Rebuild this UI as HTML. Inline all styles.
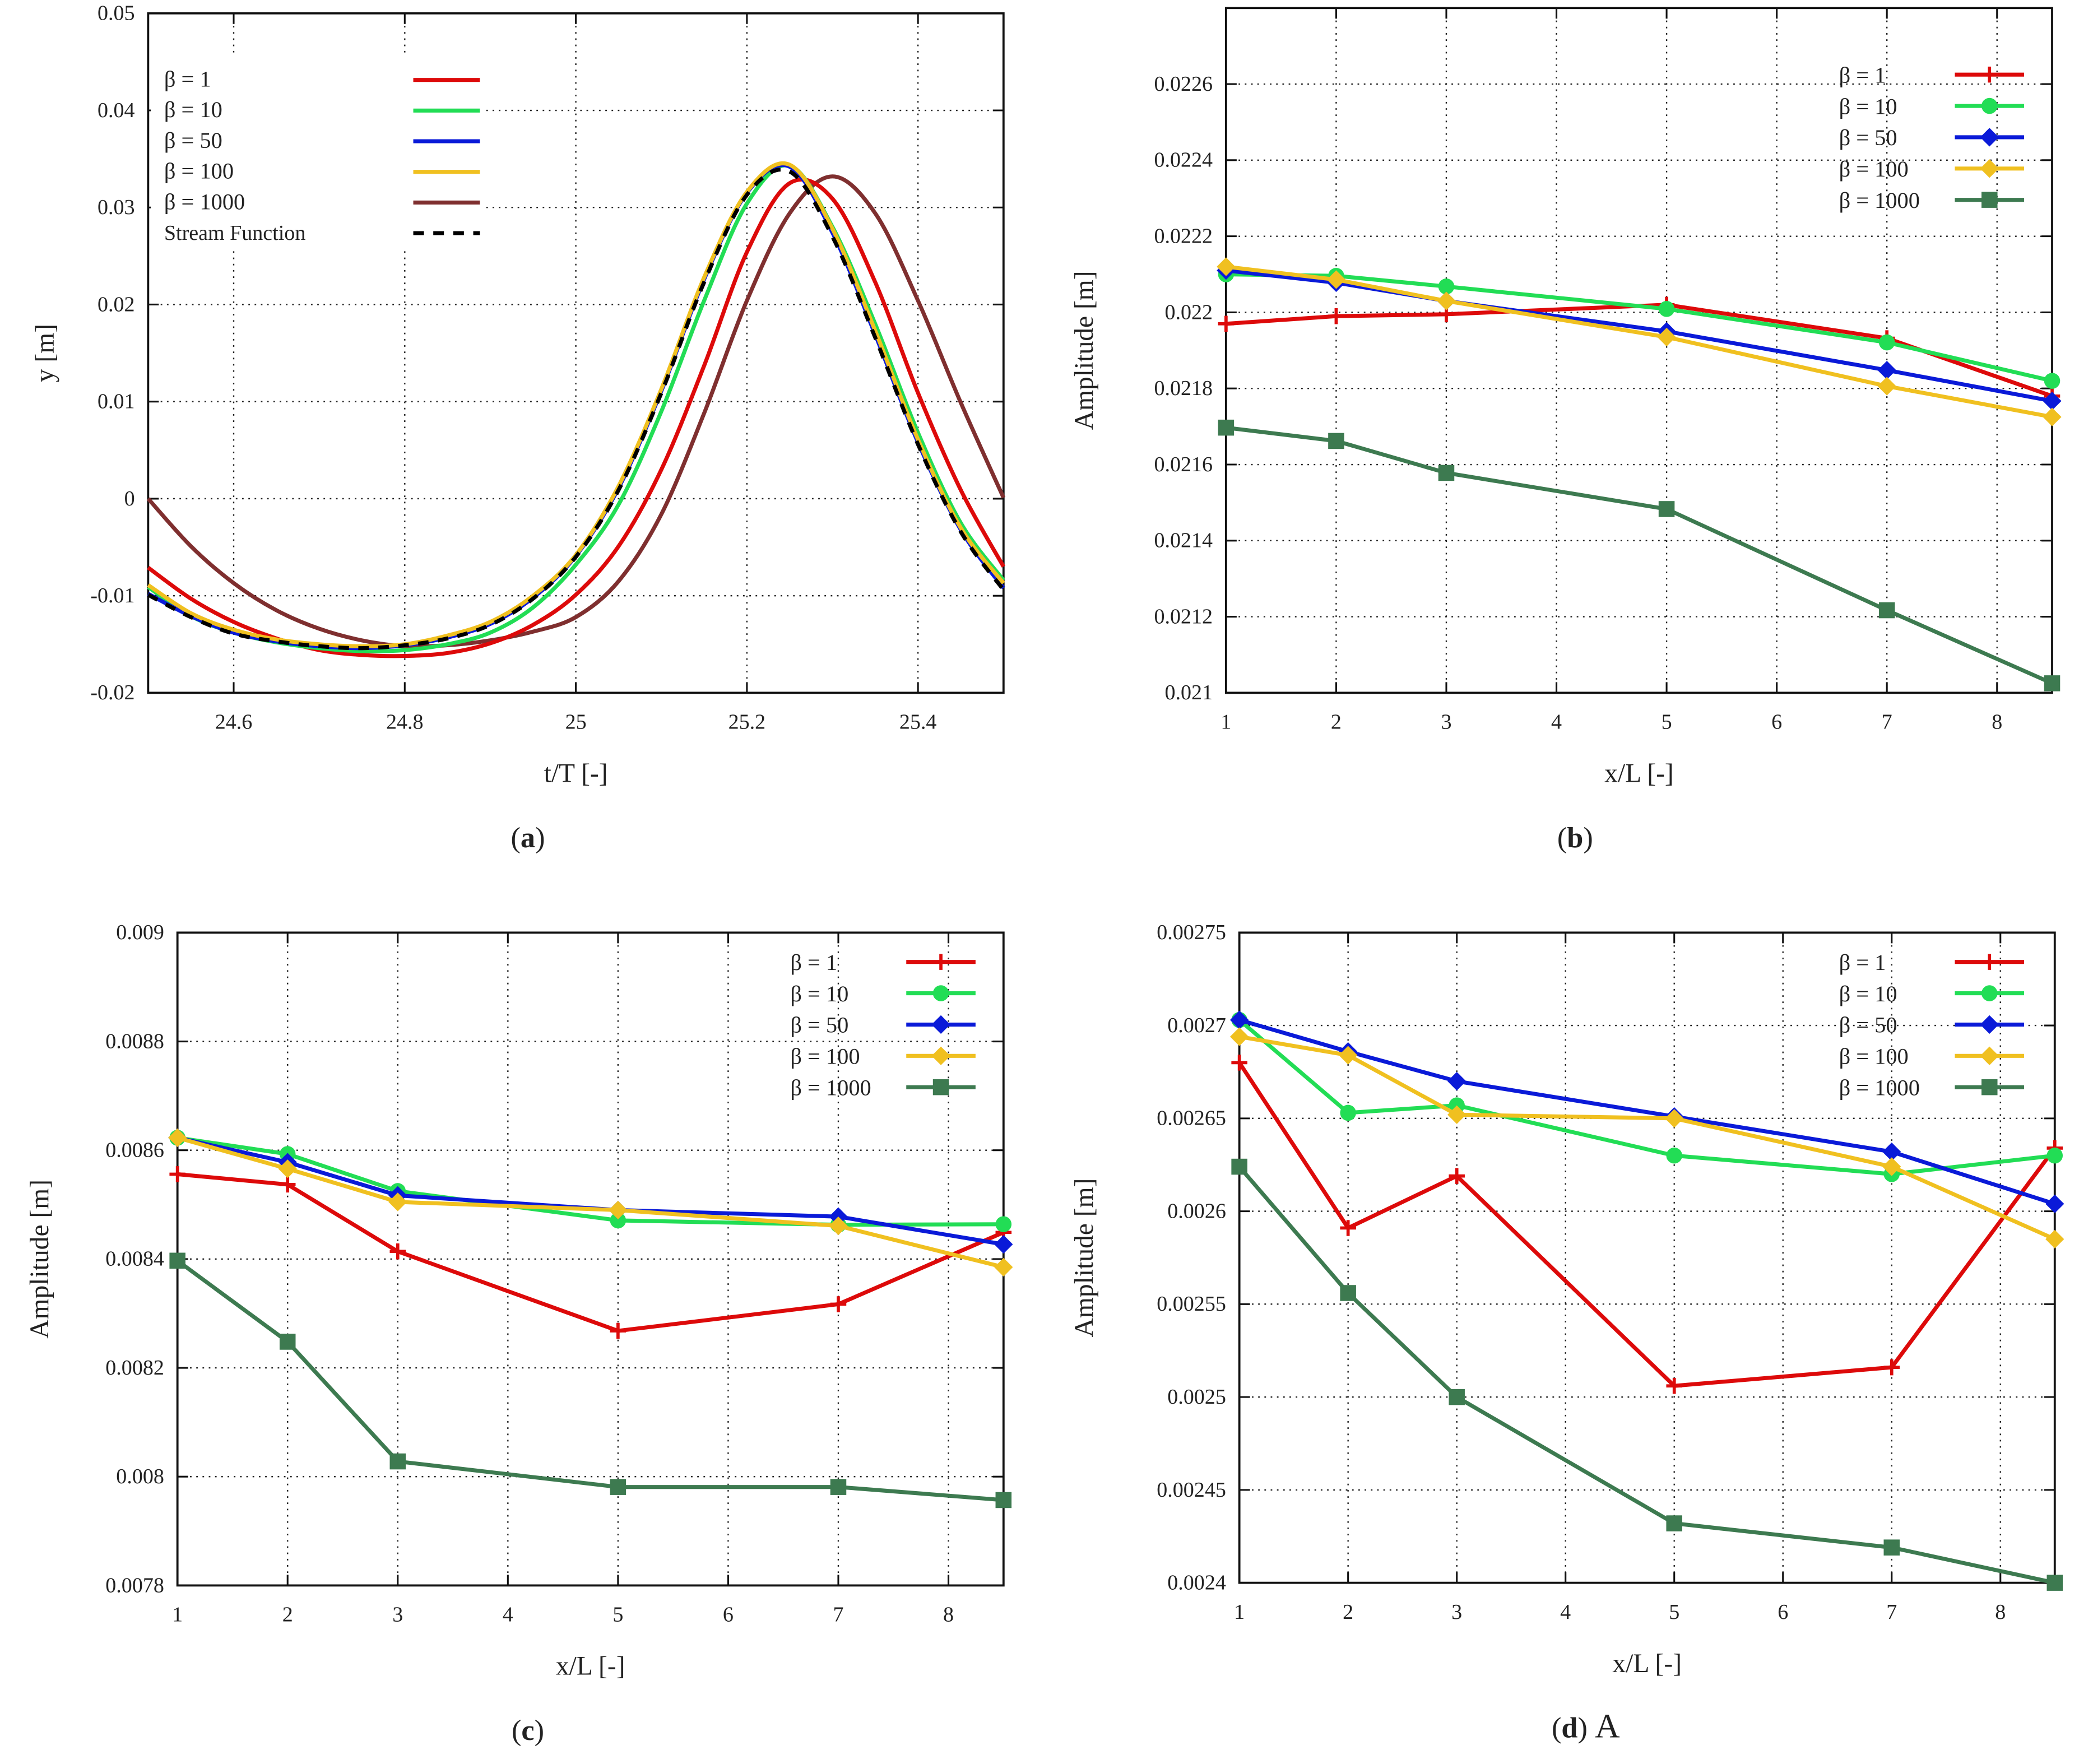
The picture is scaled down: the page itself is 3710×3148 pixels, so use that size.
<!DOCTYPE html>
<html><head><meta charset="utf-8"><style>
html,body{margin:0;padding:0;background:#fff}
svg{display:block}
text{font-family:"Liberation Serif",serif;fill:#222}
</style></head><body>
<svg id="fig" width="3710" height="3148" viewBox="0 0 1560 1324" xmlns="http://www.w3.org/2000/svg"></svg>
<script>
// ---- Panel (a) data ----
const tA = [24.5,24.55,24.6,24.65,24.7,24.75,24.8,24.85,24.9,24.95,25.0,25.05,25.1,25.15,25.2,25.25,25.3,25.35,25.4,25.45,25.5];
const aBeta1 = [-0.0071,-0.0103,-0.0127,-0.0144,-0.0156,-0.0161,-0.0162,-0.0159,-0.0149,-0.013,-0.0099,-0.0049,0.003,0.0137,0.0254,0.0325,0.0309,0.0223,0.0109,0.0009,-0.007];
const aBeta10 = [-0.0091,-0.0121,-0.0138,-0.0148,-0.0154,-0.0157,-0.0156,-0.0150,-0.0138,-0.0112,-0.0068,-0.0006,0.009,0.0204,0.0304,0.0343,0.028,0.018,0.0068,-0.0025,-0.0084];
const aBeta50 = [-0.0098,-0.0121,-0.0138,-0.0147,-0.0152,-0.0154,-0.0151,-0.0143,-0.0129,-0.0102,-0.0059,0.0011,0.0111,0.0226,0.0315,0.0342,0.0274,0.0169,0.0058,-0.0032,-0.0092];
const aBeta100 = [-0.0089,-0.0118,-0.0135,-0.0145,-0.015,-0.0152,-0.015,-0.0141,-0.0127,-0.01,-0.0058,0.0013,0.0113,0.0228,0.0316,0.0344,0.0278,0.0173,0.0061,-0.003,-0.0087];
const aBeta1000 = [0,-0.0049,-0.0087,-0.0115,-0.0134,-0.0146,-0.0152,-0.0151,-0.0146,-0.0137,-0.0122,-0.0085,-0.0016,0.0088,0.0204,0.0294,0.0332,0.0294,0.0204,0.0099,0.0001];
const aStream = [-0.0099,-0.0122,-0.0139,-0.0147,-0.0152,-0.0154,-0.0151,-0.0144,-0.013,-0.0103,-0.006,0.0009,0.0109,0.0223,0.0313,0.0337,0.027,0.0166,0.0056,-0.0034,-0.0094];
const aYTicks = [-0.02,-0.01,0,0.01,0.02,0.03,0.04,0.05];
const aYLabels = ["-0.02","-0.01","0","0.01","0.02","0.03","0.04","0.05"];
const aXTicks = [24.6,24.8,25,25.2,25.4];
const aXLabels = ["24.6","24.8","25","25.2","25.4"];

// ---- Panels (b)(c)(d) shared x ----
const xPos = [1,2,3,5,7,8.5];
const xTicksL = [1,2,3,4,5,6,7,8];
const xLabelsL = ["1","2","3","4","5","6","7","8"];
// panel b
const bBeta1 = [0.02197,0.02199,0.021995,0.02202,0.021932,0.02178];
const bBeta10 = [0.0221,0.022096,0.022068,0.022009,0.021921,0.02182];
const bBeta50 = [0.02211,0.022078,0.02203,0.02195,0.021848,0.021767];
const bBeta100 = [0.02212,0.022086,0.02203,0.021935,0.021806,0.021725];
const bBeta1000 = [0.021697,0.021662,0.021578,0.021483,0.021217,0.021025];
const bYTicks = [0.021,0.0212,0.0214,0.0216,0.0218,0.022,0.0222,0.0224,0.0226];
const bYLabels = ["0.021","0.0212","0.0214","0.0216","0.0218","0.022","0.0222","0.0224","0.0226"];
// panel c
const cBeta1 = [0.008556,0.008537,0.008414,0.008268,0.008317,0.008449];
const cBeta10 = [0.008623,0.008593,0.008525,0.008471,0.008463,0.008464];
const cBeta50 = [0.008623,0.008578,0.008517,0.00849,0.008478,0.008427];
const cBeta100 = [0.008623,0.008566,0.008505,0.00849,0.008461,0.008385];
const cBeta1000 = [0.008397,0.008248,0.008028,0.007981,0.007981,0.007957];
const cYTicks = [0.0078,0.008,0.0082,0.0084,0.0086,0.0088,0.009];
const cYLabels = ["0.0078","0.008","0.0082","0.0084","0.0086","0.0088","0.009"];
// panel d
const dBeta1 = [0.00268,0.002591,0.002619,0.002506,0.002516,0.002634];
const dBeta10 = [0.002703,0.002653,0.002657,0.00263,0.00262,0.00263];
const dBeta50 = [0.002703,0.002686,0.00267,0.002651,0.002632,0.002604];
const dBeta100 = [0.002694,0.002684,0.002652,0.00265,0.002624,0.002585];
const dBeta1000 = [0.002624,0.002556,0.0025,0.002432,0.002419,0.0024];
const dYTicks = [0.0024,0.00245,0.0025,0.00255,0.0026,0.00265,0.0027,0.00275];
const dYLabels = ["0.0024","0.00245","0.0025","0.00255","0.0026","0.00265","0.0027","0.00275"];

const seriesNames = ["β = 1","β = 10","β = 50","β = 100","β = 1000"];

const NS="http://www.w3.org/2000/svg";
const svg=document.getElementById('fig');
function mk(tag,attrs,parent){const e=document.createElementNS(NS,tag);for(const k in attrs)e.setAttribute(k,attrs[k]);(parent||svg).appendChild(e);return e;}
function txt(s,x,y,size,anchor,parent,rot){const t=mk('text',{x:x,y:y,'font-size':size,'text-anchor':anchor||'middle'},parent);if(rot)t.setAttribute('transform','rotate(-90 '+x+' '+y+')');t.textContent=s;return t;}

const COL={r:"#dd0a0a",g:"#22dd55",b:"#0a1ad8",y:"#f0c020",br:"#7f2f2f",dg:"#3d7a50"};

function panel(name,L,R,T,B,xmin,xmax,ymin,ymax,xt,xl,yt,yl){
  const g=mk('g',{});
  
  
  const sx=v=>L+(v-xmin)/(xmax-xmin)*(R-L);
  const sy=v=>B-(v-ymin)/(ymax-ymin)*(B-T);
  const grid=mk('g',{},g);
  
  
  xt.forEach((v,i)=>{const x=sx(v);
    mk('line',{x1:x,x2:x,y1:T,y2:B,stroke:'#222','stroke-width':1,'stroke-dasharray':'1.2 3.5'},grid);
    mk('line',{x1:x,x2:x,y1:B,y2:B-8,stroke:'#111','stroke-width':1.3},g);
    mk('line',{x1:x,x2:x,y1:T,y2:T+8,stroke:'#111','stroke-width':1.3},g);
    const t=txt(xl[i],x,B+27,16,'middle',g);
    
    
  });
  yt.forEach((v,i)=>{const y=sy(v);
    if(y>T+1&&y<B-1)mk('line',{x1:L,x2:R,y1:y,y2:y,stroke:'#222','stroke-width':1,'stroke-dasharray':'1.2 3.5'},grid);
    mk('line',{x1:L,x2:L+8,y1:y,y2:y,stroke:'#111','stroke-width':1.3},g);
    mk('line',{x1:R,x2:R-8,y1:y,y2:y,stroke:'#111','stroke-width':1.3},g);
    const t=txt(yl[i],L-10,y+5,16,'end',g);
    
    
  });
  const f=mk('rect',{x:L,y:T,width:R-L,height:B-T,fill:'none',stroke:'#111','stroke-width':1.6},g);
  
  
  return {g,sx,sy};
}

function smooth(pts){
  let d='M'+pts[0][0]+','+pts[0][1];
  for(let i=0;i<pts.length-1;i++){
    const p0=pts[i-1]||pts[i],p1=pts[i],p2=pts[i+1],p3=pts[i+2]||p2;
    const c1=[p1[0]+(p2[0]-p0[0])/6,p1[1]+(p2[1]-p0[1])/6];
    const c2=[p2[0]-(p3[0]-p1[0])/6,p2[1]-(p3[1]-p1[1])/6];
    d+=' C'+c1[0]+','+c1[1]+' '+c2[0]+','+c2[1]+' '+p2[0]+','+p2[1];
  }
  return d;
}

function marker(type,x,y,col,parent){
  let e;
  if(type==='plus'){e=mk('path',{d:`M${x-6},${y}H${x+6}M${x},${y-6}V${y+6}`,stroke:col,'stroke-width':2.4},parent);}
  else if(type==='circle'){e=mk('circle',{cx:x,cy:y,r:6,fill:col},parent);}
  else if(type==='diamond'){e=mk('path',{d:`M${x},${y-7}L${x+7},${y}L${x},${y+7}L${x-7},${y}Z`,fill:col},parent);}
  else {e=mk('rect',{x:x-6,y:y-6,width:12,height:12,fill:col},parent);}
  return e;
}

// ---- Panel a ----
(function(){
  const P=panel('panel-a',111,753,10,520,24.5,25.5,-0.02,0.05,aXTicks,aXLabels,aYTicks,aYLabels);
  const lg=mk('g',{},P.g);
  
  
  mk('rect',{x:113,y:40,width:250,height:148,fill:'#fff'},lg);
  const sets=[[aBeta1000,COL.br,'curve-beta-1000'],[aBeta1,COL.r,'curve-beta-1'],[aBeta10,COL.g,'curve-beta-10'],[aBeta50,COL.b,'curve-beta-50'],[aBeta100,COL.y,'curve-beta-100']];
  sets.forEach(s=>{
    const p=mk('path',{d:smooth(tA.map((t,i)=>[P.sx(t),P.sy(s[0][i])])),fill:'none',stroke:s[1],'stroke-width':3},P.g);
    
    
  });
  const sp=mk('path',{d:smooth(tA.map((t,i)=>[P.sx(t),P.sy(aStream[i])])),fill:'none',stroke:'#000','stroke-width':3,'stroke-dasharray':'8 7'},P.g);
  
  
  const lg2=mk('g',{},P.g);
  
  
  const items=[["β = 1",COL.r],["β = 10",COL.g],["β = 50",COL.b],["β = 100",COL.y],["β = 1000",COL.br],["Stream Function","#000"]];
  items.forEach((it,i)=>{const y=60+i*23;
    const t=txt(it[0],123,y+5,i===5?16:17,'start',lg2);
    
    
    const l=mk('line',{x1:310,x2:360,y1:y,y2:y,stroke:it[1],'stroke-width':3},lg2);
    if(i===5)l.setAttribute('stroke-dasharray','8 7');
  });
  txt('y [m]',40,265,20,'middle',svg,true);
  txt('t/T [-]',432,587,20,'middle');
  const c=txt('',396,636,22,'middle');c.innerHTML='(<tspan font-weight="bold">a</tspan>)';
  
})();

function linePanel(name,L,R,T,B,ymin,ymax,yt,yl,data,legX,legY,capX,capLetter,extra,ytitleX){
  const P=panel(name,L,R,T,B,1,8.5,ymin,ymax,xTicksL,xLabelsL,yt,yl);
  const styles=[[COL.r,'plus'],[COL.g,'circle'],[COL.b,'diamond'],[COL.y,'diamond'],[COL.dg,'square']];
  const order=[4,0,1,2,3];
  order.forEach(k=>{
    const s=styles[k],vals=data[k];
    const sg=mk('g',{},P.g);
    
    
    const pts=xPos.map((x,i)=>P.sx(x)+','+P.sy(vals[i])).join(' ');
    mk('polyline',{points:pts,fill:'none',stroke:s[0],'stroke-width':3},sg);
    xPos.forEach((x,i)=>{const m=marker(s[1],P.sx(x),P.sy(vals[i]),s[0],sg);
      
      });
  });
  const lg=mk('g',{},P.g);
  
  
  seriesNames.forEach((n,i)=>{const y=legY+i*23.5;
    const t=txt(n,legX,y+6,17,'start',lg);
    
    
    mk('line',{x1:legX+87,x2:legX+139,y1:y,y2:y,stroke:styles[i][0],'stroke-width':3},lg);
    marker(styles[i][1],legX+113,y,styles[i][0],lg);
  });
  txt('Amplitude [m]',ytitleX,(T+B)/2,20,'middle',svg,true);
  txt('x/L [-]',(L+R)/2,B+67,20,'middle');
  const c=txt('',capX,B+116,22,'middle');c.innerHTML='(<tspan font-weight="bold">'+capLetter+'</tspan>)'+extra;
  
}
linePanel('panel-b',920,1540,6,520,0.021,0.0228,bYTicks,bYLabels,[bBeta1,bBeta10,bBeta50,bBeta100,bBeta1000],1380,56,1182,'b','',820);
linePanel('panel-c',133,753,700,1190,0.0078,0.009,cYTicks,cYLabels,[cBeta1,cBeta10,cBeta50,cBeta100,cBeta1000],593,722,396,'c','',36);
linePanel('panel-d',930,1542,700,1188,0.0024,0.00275,dYTicks,dYLabels,[dBeta1,dBeta10,dBeta50,dBeta100,dBeta1000],1380,722,1190,'d',' <tspan font-size="26">A</tspan>',820);
</script>
</body></html>
